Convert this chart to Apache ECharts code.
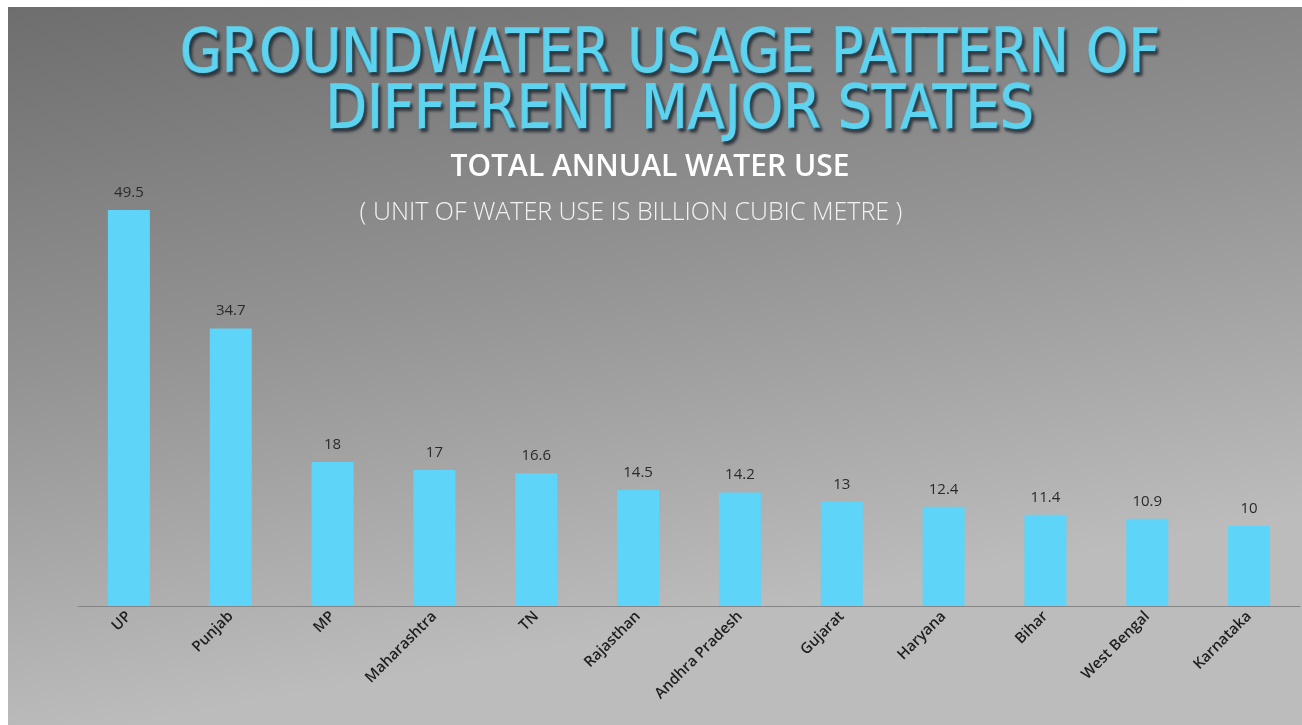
<!DOCTYPE html>
<html>
<head>
<meta charset="utf-8">
<title>Groundwater usage pattern</title>
<script src="https://cdn.jsdelivr.net/npm/echarts@6/dist/echarts.min.js"></script>
<style>
  html, body { margin: 0; padding: 0; background: #fff; }
  #chart { position: absolute; left: 8px; top: 7px; width: 1294px; height: 718px; }
</style>
</head>
<body>
<div id="chart"></div>
<script>
// data (billion cubic metre)
const states = ['UP', 'Punjab', 'MP', 'Maharashtra', 'TN', 'Rajasthan', 'Andhra Pradesh',
  'Gujarat', 'Haryana', 'Bihar', 'West Bengal', 'Karnataka']
const waterUse = [49.5, 34.7, 18, 17, 16.6, 14.5, 14.2, 13, 12.4, 11.4, 10.9, 10]

const titleLines = ['GROUNDWATER USAGE PATTERN OF', 'DIFFERENT MAJOR STATES']
const subTitle = 'TOTAL ANNUAL WATER USE'
const unitNote = '( UNIT OF WATER USE IS BILLION CUBIC METRE )'

const chart = echarts.init(document.getElementById('chart'))

const titleStyle = {
  fill: '#5dd3ef',
  stroke: '#5dd3ef',
  lineWidth: 1.6,
  font: '60px "DejaVu Sans Condensed", sans-serif',
  textAlign: 'center',
  textVerticalAlign: 'top',
  textShadowColor: 'rgba(20,30,40,0.75)',
  textShadowBlur: 3,
  textShadowOffsetX: 2,
  textShadowOffsetY: 3
}

chart.setOption({
  backgroundColor: {
    type: 'linear', x: 0, y: 0, x2: 0.1, y2: 1,
    colorStops: [
      {offset: 0, color: '#6e6e6e'},
      {offset: 0.5, color: '#939393'},
      {offset: 1, color: '#bcbcbc'}
    ]
  },
  graphic: [
    {type: 'text', x: 662, y: 19, style: Object.assign({text: titleLines[0]}, titleStyle)},
    {type: 'text', x: 672, y: 75, style: Object.assign({text: titleLines[1]}, titleStyle)},
    {
      type: 'text', x: 642, y: 160,
      style: {
        text: subTitle, fill: '#ffffff', textAlign: 'center', textVerticalAlign: 'middle',
        font: '600 30px "Open Sans", sans-serif'
      }
    },
    {
      type: 'text', x: 623, y: 206,
      style: {
        text: unitNote, fill: '#f2f2f2', textAlign: 'center', textVerticalAlign: 'middle',
        font: '300 25px "Open Sans", sans-serif'
      }
    }
  ],
  grid: {left: 70, right: 2, top: 119, bottom: 119},
  xAxis: {
    type: 'category',
    data: states,
    axisTick: {show: false},
    axisLine: {lineStyle: {color: '#858585', width: 1}},
    axisLabel: {
      rotate: 45,
      margin: 8,
      interval: 0,
      color: '#1e1e1e',
      fontFamily: 'Open Sans',
      fontWeight: 600,
      fontSize: 15
    }
  },
  yAxis: {
    type: 'value',
    min: 0,
    max: 60,
    show: false,
    splitLine: {show: false}
  },
  series: [{
    type: 'bar',
    data: waterUse,
    barWidth: 42,
    itemStyle: {color: '#5dd4f8'},
    label: {
      show: true,
      position: 'top',
      distance: 10,
      color: '#2a2a2a',
      fontFamily: 'Open Sans',
      fontSize: 15
    }
  }]
})
</script>
</body>
</html>
